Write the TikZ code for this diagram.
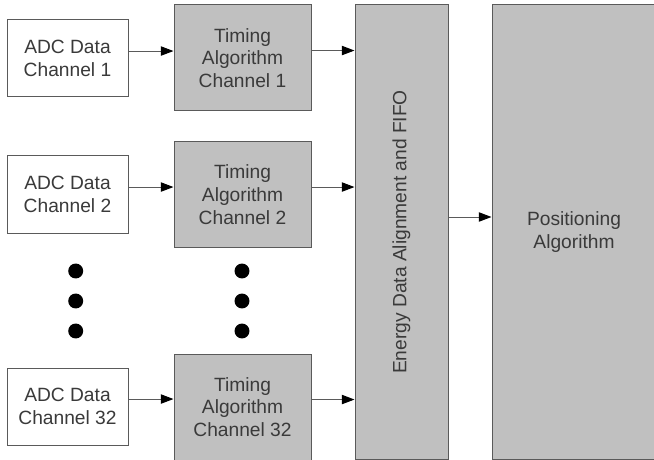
\documentclass[tikz,border=0pt]{standalone}
\usepackage{fontspec}
\setmainfont{Liberation Sans}
\usetikzlibrary{arrows.meta,calc,positioning}
\definecolor{BoxGray}{HTML}{C0C0C0}
\definecolor{LineGray}{HTML}{5A5A5A}
\definecolor{TextGray}{HTML}{3A3A3A}

\begin{document}
\begin{tikzpicture}[x=0.75pt,y=-0.75pt,>={Triangle[length=9.5pt,width=7pt,color=black]},
    every node/.style={text=TextGray,align=center,inner sep=0pt,
      font=\fontsize{14.4}{17}\selectfont},
    adcbox/.style={draw=LineGray,line width=0.75pt,fill=white,
      minimum width=90.75pt,minimum height=57.75pt},
    timebox/.style={draw=LineGray,line width=0.75pt,fill=BoxGray,
      minimum width=102.75pt,minimum height=79.5pt},
    bigbox/.style={draw=LineGray,line width=0.75pt,fill=BoxGray,
      minimum height=340.5pt},
    link/.style={->,draw=LineGray,line width=0.75pt}]
  \useasboundingbox (0,0) rectangle (654,460);
  % input channels
  \node[adcbox] (adc1) at (67.5,58.5) {ADC Data\\Channel 1};
  \node[adcbox] (adc2) at (67.5,194.5) {ADC Data\\Channel 2};
  \node[adcbox] (adc32) at (67.5,406.5) {ADC Data\\Channel 32};
  \node[timebox] (tim1) at (242.5,58) {Timing\\Algorithm\\Channel 1};
  \node[timebox] (tim2) at (242.5,194.5) {Timing\\Algorithm\\Channel 2};
  \node[timebox] (tim32) at (242.5,407) {Timing\\Algorithm\\Channel 32};
  % back end
  \node[bigbox,minimum width=69.75pt,
    label={[rotate=90,text=TextGray]center:Energy Data Alignment and FIFO}]
    (fifo) at (401.5,232) {};
  \node[bigbox,minimum width=123pt] (pos) at (574,232) {Positioning\\Algorithm};
  % connectors
  \foreach \ch in {1,2,32} {
    \draw[link] ([yshift=5.6pt]adc\ch.east) -- ([yshift=5.6pt]adc\ch.east -| tim\ch.west);
    \draw[link] ([yshift=5.6pt]tim\ch.east) -- ([yshift=5.6pt]tim\ch.east -| fifo.west);
  }
  \draw[link] ([yshift=11.25pt]fifo.east) -- ([yshift=11.25pt]fifo.east -| pos.west);
  % dots
  \foreach \x in {75.7,242} {
    \foreach \y in {271,301,331}
      \fill (\x,\y) circle (5.6pt);
  }
\end{tikzpicture}
\end{document}
